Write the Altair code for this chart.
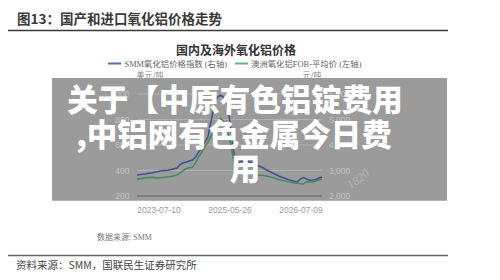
import altair as alt
import pandas as pd

# ---------------- data ----------------
# SMM alumina price index (right axis, 元/吨)
blue_smm = [2823, 2839, 2855, 2870, 2894, 2913, 2941, 2960, 2988, 3000,
            3011, 3039, 3070, 3098, 3235, 3301, 3333, 3372, 3411, 3529,
            3725, 3882, 4117, 4313, 4901, 5528, 5861, 5959, 5881, 5646,
            5058, 3999, 3333, 3313, 3352, 3372, 3352, 3313, 3254, 3196,
            3156, 3098, 3019, 2960, 2902, 2843, 2784, 2733, 2694, 2647,
            2608, 2576, 2561, 2666, 2725, 2666, 2615, 2627, 2647, 2706, 2745]
# Australia alumina FOB average (left axis, 美元/吨)
green_fob = [331, 335, 340, 343, 345, 347, 344, 341, 343, 347,
             351, 353, 358, 365, 382, 400, 416, 421, 426, 459,
             506, 545, 584, 623, 670, 717, 764, 808, 788, 741,
             655, 521, 427, 404, 396, 388, 384, 380, 372, 365,
             362, 361, 357, 351, 345, 337, 329, 323, 318, 312,
             307, 302, 300, 296, 294, 312, 310, 310, 318, 325, 333]
idx = list(range(len(blue_smm)))

x_tick_idx = [7, 30, 53]
x_tick_labels = ["2023-07-10", "2025-05-26", "2026-07-09"]
left_ticks = [200, 400, 600, 800, 1000]
left_labels = ["200", "400", "600", "800", "1000"]
right_ticks = [2000, 3000, 4000, 5000, 6000]
right_labels = ["2,000", "3,000", "4,000", "5,000", "6,000"]

fig_title = "图13：国产和进口氧化铝价格走势"
chart_title = "国内及海外氧化铝价格"
legend_blue = "SMM氧化铝价格指数 (右轴)"
legend_green = "澳洲氧化铝FOB-平均价 (左轴)"
unit_left = "美元/吨"
unit_right = "元/吨"
data_src = "数据来源: SMM"
foot_src = "资料来源：SMM，国联民生证券研究所"
overlay_lines = ["关于【中原有色铝锭费用", ",中铝网有色金属今日费", "用"]
wm = "1820"

# ---------------- layout ----------------
OX, OY = 137, 94          # plot origin in page pixels
W, H = 185, 102
SANS = "Noto Sans CJK SC"
SERIF = "Liberation Serif, Noto Sans CJK SC"
NUM = "Liberation Sans"

BLUE_LEG = "#5670ad"
GREEN_LEG = "#62b58c"
BLUE_LINE = "#3f5290"
GREEN_LINE = "#3f8a5e"

one = pd.DataFrame({"a": [0]})


def txt(s, x, y, size, color, weight="normal", align="left", font=SANS, angle=None, style=None):
    kw = dict(align=align, baseline="middle", fontSize=size, color=color,
              fontWeight=weight, font=font)
    if angle is not None:
        kw["angle"] = angle
    if style is not None:
        kw["fontStyle"] = style
    return alt.Chart(pd.DataFrame({"t": [s]})).mark_text(**kw).encode(
        x=alt.value(x - OX), y=alt.value(y - OY), text="t:N")


def hrule(x1, x2, y, color, w):
    return alt.Chart(one).mark_rule(color=color, strokeWidth=w).encode(
        x=alt.value(x1 - OX), x2=alt.value(x2 - OX), y=alt.value(y - OY))


layers = []
# header
layers.append(txt(fig_title, 17, 20, 13.5, "#3a3a3a", weight="bold"))
layers.append(hrule(8, 448, 30.5, "#3a3a3a", 1.5))
layers.append(txt(chart_title, 236, 50.5, 12, "#333333", weight="bold", align="center"))
layers.append(hrule(108, 121, 63.5, BLUE_LEG, 2))
layers.append(txt(legend_blue, 124.5, 63.5, 8.4, "#666666", font=SERIF))
layers.append(hrule(235, 248, 63.5, GREEN_LEG, 2))
layers.append(txt(legend_green, 251, 63.5, 8.4, "#666666", font=SERIF))
layers.append(txt(unit_left, 150, 75.5, 8, "#8a8a8a", align="center"))
layers.append(txt(unit_right, 312, 75.5, 8, "#8a8a8a", align="center"))
# footer
layers.append(txt(data_src, 97, 238, 8, "#777777", font=SERIF))
layers.append(hrule(8, 448, 255.5, "#666666", 1.5))
layers.append(txt(foot_src, 16, 265.5, 10.5, "#444444"))

# gray overlay box
layers.append(alt.Chart(one).mark_rect(color="#9b9b9b").encode(
    x=alt.value(52 - OX), x2=alt.value(447 - OX),
    y=alt.value(78 - OY), y2=alt.value(200.7 - OY)))

lscale = alt.Scale(domain=[200, 1000], nice=False, zero=False)
rscale = alt.Scale(domain=[2000, 6000], nice=False, zero=False)

grid_df = pd.DataFrame({"v": left_ticks[1:]})
layers.append(alt.Chart(grid_df).mark_rule(color="#b0b0b0", strokeWidth=1).encode(
    y=alt.Y("v:Q", scale=lscale, axis=None), x=alt.value(0), x2=alt.value(W)))
base_df = pd.DataFrame({"v": left_ticks[:1]})
layers.append(alt.Chart(base_df).mark_rule(color="#5e5e5e", strokeWidth=1).encode(
    y=alt.Y("v:Q", scale=lscale, axis=None), x=alt.value(0), x2=alt.value(W)))

ll_df = pd.DataFrame({"v": left_ticks, "lab": left_labels})
layers.append(alt.Chart(ll_df).mark_text(align="right", baseline="middle", fontSize=8.5,
                                         color="#c3c3c3", font=NUM).encode(
    y=alt.Y("v:Q", scale=lscale, axis=None), x=alt.value(-7.5), text="lab:N"))
rl_df = pd.DataFrame({"v": right_ticks, "lab": right_labels})
layers.append(alt.Chart(rl_df).mark_text(align="left", baseline="middle", fontSize=8.5,
                                         color="#c3c3c3", font=NUM).encode(
    y=alt.Y("v:Q", scale=rscale, axis=None), x=alt.value(192), text="lab:N"))

# lines
expr = " : ".join(f"datum.value == {i} ? '{l}'" for i, l in zip(x_tick_idx, x_tick_labels)) + " : ''"
xenc = alt.X("i:Q", scale=alt.Scale(domain=[0, len(idx) - 1], nice=False, zero=False),
             axis=alt.Axis(values=x_tick_idx, labelExpr=expr, grid=False, ticks=False,
                           domain=False, labelColor="#9a9a9a", labelFontSize=8.5,
                           labelFont=NUM, labelPadding=9, labelAngle=0, labelFlush=False,
                           labelOverlap=False, title=None))
df = pd.DataFrame({"i": idx, "blue": blue_smm, "green": green_fob})
layers.append(alt.Chart(df).mark_line(color=BLUE_LINE, strokeWidth=1.5).encode(
    x=xenc, y=alt.Y("blue:Q", scale=rscale, axis=None)))
layers.append(alt.Chart(df).mark_line(color=GREEN_LINE, strokeWidth=1.5).encode(
    x=xenc, y=alt.Y("green:Q", scale=lscale, axis=None)))

# faint watermark
layers.append(txt(wm, 358, 179, 12, "#b5b5b5", font="Liberation Serif", angle=325, style="italic", align="center"))

# big white overlay text
for s, cx, cy in zip(overlay_lines, [235, 234, 245], [102, 137, 171]):
    layers.append(txt(s, cx, cy, 30.5, "#ffffff", weight=900, align="center"))

chart = alt.layer(*layers).resolve_scale(y="independent").properties(
    width=W, height=H,
    padding={"left": OX, "top": OY, "right": 500 - OX - W, "bottom": 280 - OY - H},
    autosize=alt.AutoSizeParams(type="none"),
    background="white",
).configure_view(stroke=None)

chart.save("out.html", embed_options={"renderer": "svg", "actions": False})
